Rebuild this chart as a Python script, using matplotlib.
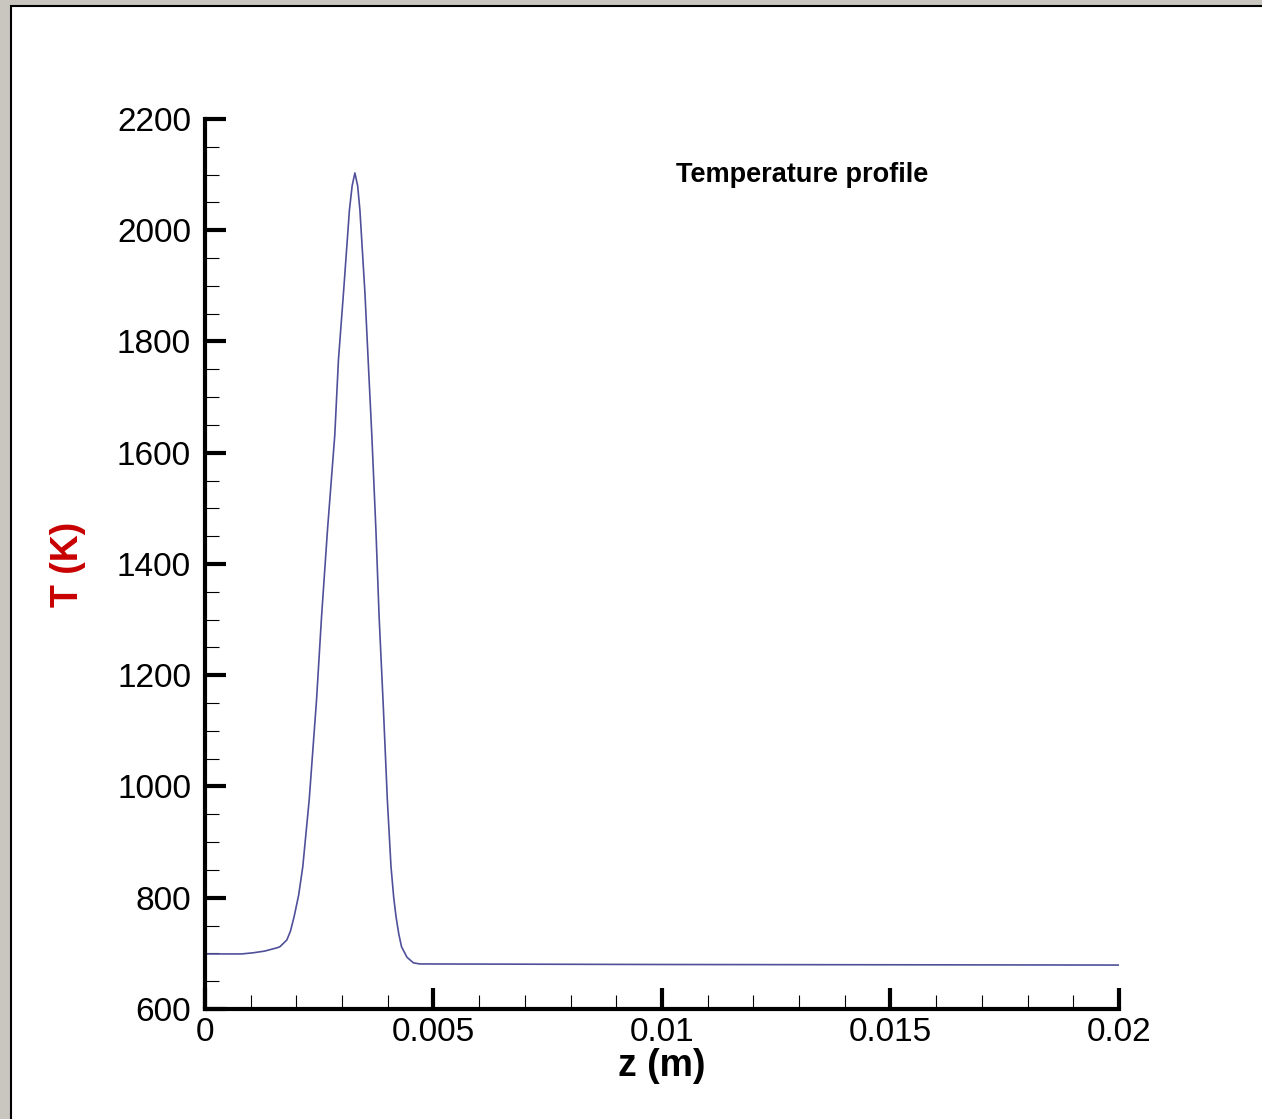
import matplotlib
matplotlib.use("Agg")
import matplotlib.pyplot as plt
from matplotlib.patches import Rectangle
from matplotlib.ticker import MultipleLocator

plt.rcParams['font.family'] = ['Liberation Sans', 'DejaVu Sans']

# temperature profile
z = [0.0, 0.0008, 0.00105, 0.0013, 0.001575, 0.00164, 0.00179, 0.00187,
     0.00195, 0.00205, 0.00214, 0.00228,
     0.00244, 0.00255, 0.00268, 0.00284, 0.00292, 0.00303, 0.00316, 0.00322,
     0.00328, 0.00334,
     0.00339, 0.0035, 0.00357, 0.00365, 0.00374, 0.00381, 0.0039, 0.00399,
     0.00407, 0.00413, 0.00418, 0.00424, 0.0043, 0.00442, 0.00456, 0.0047,
     0.01, 0.02]
T = [699, 699, 701, 704, 710, 712, 724, 740,
     766, 805, 856, 976,
     1155, 1305, 1461, 1632, 1767, 1887, 2036, 2080,
     2103, 2080,
     2036, 1887, 1767, 1632, 1461, 1305, 1147, 976,
     856, 800, 766, 735, 712, 693, 683, 681,
     680, 679]

xticks = [0, 0.005, 0.01, 0.015, 0.02]
xlabels = ['0', '0.005', '0.01', '0.015', '0.02']
yticks = list(range(600, 2201, 200))

fig = plt.figure(figsize=(12.62, 11.19), dpi=100)
# window frame around the plot
fig.patches.append(Rectangle((0, 0), 1, 1, transform=fig.transFigure,
                             facecolor='#c9c6bf', edgecolor='none', zorder=-3))
fig.patches.append(Rectangle((11 / 1262, -0.01), 1.01, 1 - 6 / 1119 + 0.01,
                             transform=fig.transFigure, facecolor='white',
                             edgecolor='black', linewidth=1.5, zorder=-2))

ax = fig.add_axes([205 / 1262, 1 - 1009 / 1119, 914 / 1262, 890 / 1119])
ax.patch.set_alpha(0)
ax.plot(z, T, color='#50509a', linewidth=1.2)

ax.set_xlim(0, 0.02)
ax.set_ylim(600, 2200)
ax.set_xticks(xticks, labels=xlabels)
ax.set_yticks(yticks)
ax.xaxis.set_minor_locator(MultipleLocator(0.001))
ax.yaxis.set_minor_locator(MultipleLocator(50))

for s in ['top', 'right']:
    ax.spines[s].set_visible(False)
for s in ['left', 'bottom']:
    ax.spines[s].set_linewidth(3)

ax.tick_params(which='major', direction='in', length=15, width=3,
               labelsize=24, pad=10)
ax.tick_params(which='minor', direction='in', length=10, width=0.8)
ax.tick_params(axis='x', which='major', pad=6)

ax.set_xlabel('z (m)', fontsize=27, fontweight='bold', labelpad=0)
ax.set_ylabel('T (K)', fontsize=27, fontweight='bold', color='#c80000',
              labelpad=22)

ax.text(0.6535, 0.937, 'Temperature profile', transform=ax.transAxes,
        fontsize=19.5, fontweight='bold', ha='center', va='center')

fig.savefig('out.png', dpi=100)
